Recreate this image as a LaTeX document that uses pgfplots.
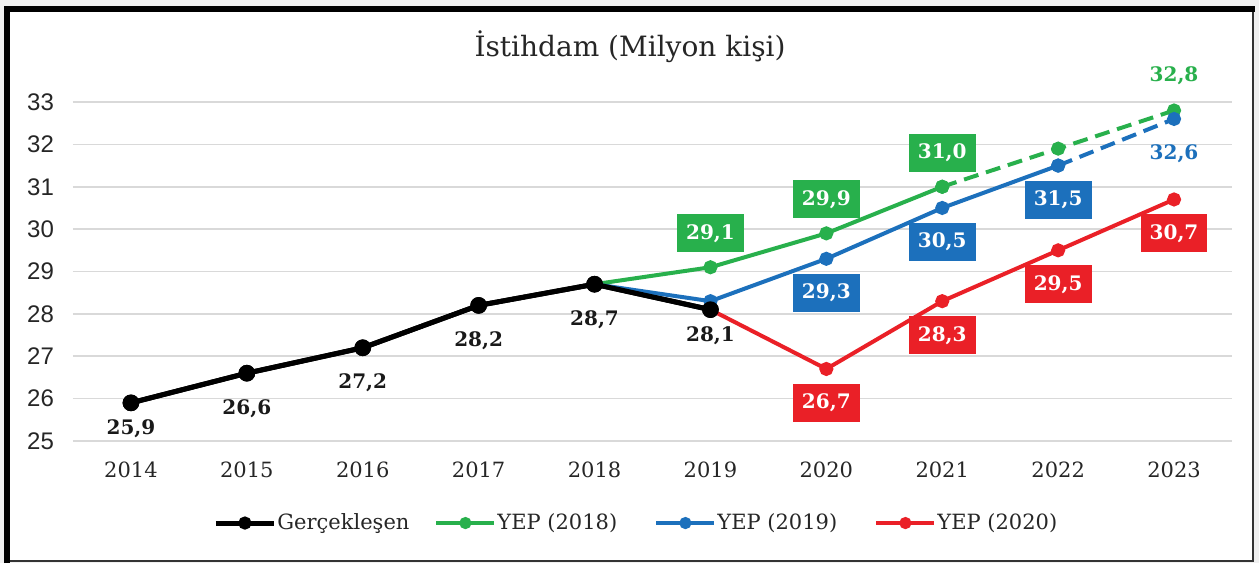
\documentclass[border=0pt]{standalone}
\usepackage{fontspec}
\setmainfont{DejaVu Serif}
\newfontfamily\arialf{Liberation Sans}
\usepackage{pgfplots}
\pgfplotsset{compat=1.18}

\definecolor{cG}{RGB}{40,176,76}
\definecolor{cB}{RGB}{28,112,188}
\definecolor{cR}{RGB}{234,32,39}
\definecolor{gridc}{RGB}{217,217,217}

\pgfplotstableread{
x y lab
0 25.9 25,9
5 28.1 28,1
}\lblKa
\pgfplotstableread{
x y lab
1 26.6 26,6
2 27.2 27,2
3 28.2 28,2
4 28.7 28,7
}\lblKb
\pgfplotstableread{
x y lab
5 29.1 29,1
6 29.9 29,9
7 31.0 31,0
}\lblG
\pgfplotstableread{
x y lab
6 29.3 29,3
7 30.5 30,5
8 31.5 31,5
}\lblB
\pgfplotstableread{
x y lab
6 26.7 26,7
7 28.3 28,3
8 29.5 29,5
9 30.7 30,7
}\lblR

\begin{document}
\begin{tikzpicture}
% page and frame
\fill[gray!12] (-36.5pt,-61pt) rectangle (593pt,220.5pt);
\path[use as bounding box] (-36.5pt,-61pt) rectangle (593pt,220.5pt);
\fill[white] (-33pt,-60pt) rectangle (590pt,216pt);
\draw[black!80, line width=1pt] (590pt,216pt) -- (590pt,-60pt) -- (-33pt,-60pt);
\draw[black, line width=3pt] (-33pt,-61pt) -- (-33pt,216pt) -- (591pt,216pt);

\begin{axis}[
    scale only axis,
    width=579.5pt, height=169.5pt,
    xmin=-0.5, xmax=9.5,
    ymin=25, ymax=33,
    xtick={0,...,9},
    xticklabels={2014,2015,2016,2017,2018,2019,2020,2021,2022,2023},
    ytick={25,...,33},
    /pgf/number format/assume math mode=true,
    major tick length=0pt,
    axis line style={draw=none},
    ymajorgrids,
    grid style={draw=gridc, line width=0.8pt},
    tick label style={text=black!85},
    xticklabel style={font=\fontsize{10.5}{12}\selectfont, anchor=center, yshift=-14.5pt},
    yticklabel style={font=\arialf\fontsize{12}{14}\selectfont, anchor=east, xshift=-6pt},
    title={İstihdam (Milyon kişi)},
    every axis title shift=0pt,
    title style={at={(0.4806,1.162)}, anchor=center, text=black!85,
        font=\fontsize{14}{16}\selectfont},
    clip=false,
    legend columns=4,
    legend style={at={(0.1208,-0.242)}, anchor=west, draw=none, fill=none,
        inner sep=0pt, text=black!85,
        font=\fontsize{10.5}{12}\selectfont,
        /tikz/every even column/.append style={column sep=0pt},
        nodes={inner xsep=0.5pt}},
    legend image code/.code={\draw[mark repeat=2, mark phase=2, #1, mark size=2pt]
        plot coordinates {(0pt,0pt) (14.5pt,0pt) (29pt,0pt)};},
    lab/.style={draw=none, mark=none, forget plot, nodes near coords,
        point meta=explicit symbolic,
        nodes near coords style={anchor=center, font=\bfseries\fontsize{10}{12}\selectfont,
            text height=7.5pt, text depth=1.5pt, inner xsep=4.5pt, inner ysep=5pt}},
]
\addplot[black, line width=2.5pt, mark=*, mark size=2.9pt]
    coordinates {(0,25.9) (1,26.6) (2,27.2) (3,28.2) (4,28.7) (5,28.1)};
\addlegendentry{\makebox[78pt][l]{Gerçekleşen}}
\addplot[cG, line width=2pt, mark=*, mark size=2.5pt]
    coordinates {(4,28.7) (5,29.1) (6,29.9) (7,31.0)};
\addlegendentry{\makebox[78pt][l]{YEP (2018)}}
\addplot[cB, line width=2pt, mark=*, mark size=2.5pt]
    coordinates {(4,28.7) (5,28.3) (6,29.3) (7,30.5) (8,31.5)};
\addlegendentry{\makebox[78pt][l]{YEP (2019)}}
\addplot[cR, line width=2pt, mark=*, mark size=2.5pt]
    coordinates {(5,28.1) (6,26.7) (7,28.3) (8,29.5) (9,30.7)};
\addlegendentry{YEP (2020)}
% projections
\addplot[cG, line width=2pt, dash pattern=on 7.5pt off 4pt, mark=*, mark size=2.5pt,
    mark options={solid}, forget plot]
    coordinates {(7,31.0) (8,31.9) (9,32.8)};
\addplot[cB, line width=2pt, dash pattern=on 7.5pt off 4pt, mark=*, mark size=2.5pt,
    mark options={solid}, forget plot]
    coordinates {(8,31.5) (9,32.6)};
% actual series on top
\addplot[black, line width=2.5pt, mark=*, mark size=2.9pt, forget plot]
    coordinates {(0,25.9) (1,26.6) (2,27.2) (3,28.2) (4,28.7) (5,28.1)};

% value labels
\addplot[lab, nodes near coords style={yshift=-13pt, text=black!90}] table[meta=lab] {\lblKa};
\addplot[lab, nodes near coords style={yshift=-17.5pt, text=black!90}] table[meta=lab] {\lblKb};
\addplot[lab, nodes near coords style={yshift=17pt, fill=cG, text=white}] table[meta=lab] {\lblG};
\addplot[lab, nodes near coords style={yshift=-17pt, fill=cB, text=white}] table[meta=lab] {\lblB};
\addplot[lab, nodes near coords style={yshift=-17pt, fill=cR, text=white}] table[meta=lab] {\lblR};
\addplot[lab, nodes near coords style={yshift=17.5pt, text=cG}] coordinates {(9,32.8) [32,8]};
\addplot[lab, nodes near coords style={yshift=-17.5pt, text=cB}] coordinates {(9,32.6) [32,6]};
\end{axis}
\end{tikzpicture}
\end{document}
